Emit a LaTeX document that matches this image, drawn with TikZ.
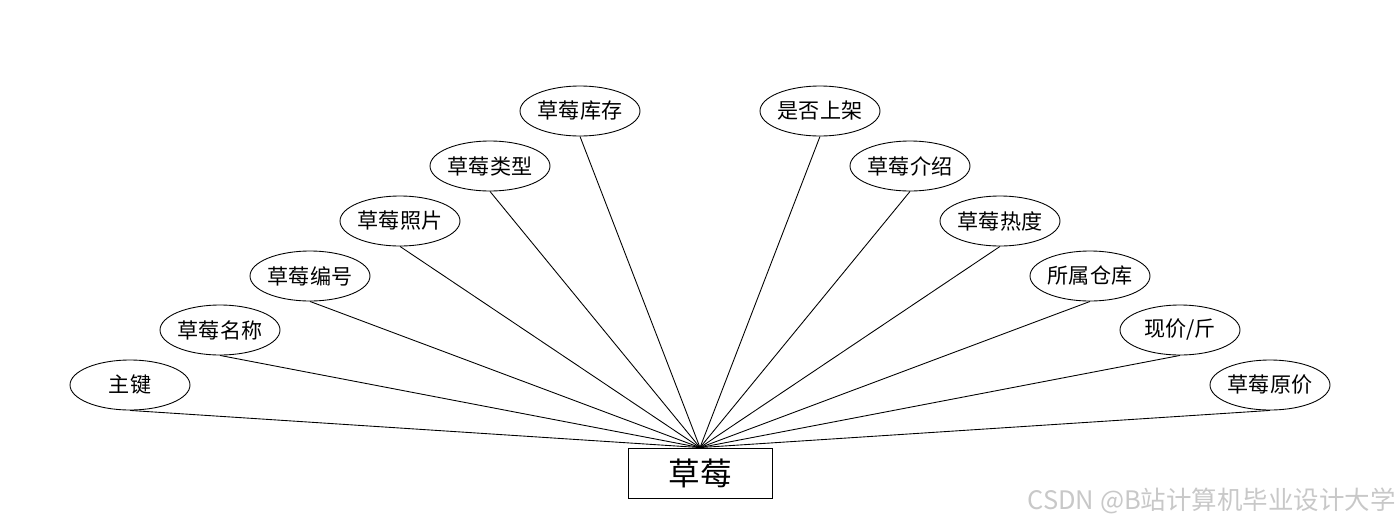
\documentclass[tikz,border=0pt]{standalone}
\usepackage{fontspec}
\setmainfont{Noto Sans CJK SC}
\usepackage{tikz}
\usetikzlibrary{shapes.geometric}
\definecolor{ink}{HTML}{000000}
\definecolor{wmark}{HTML}{C8C8C8}

\begin{document}
\begin{tikzpicture}[x=0.02cm,y=-0.02cm,
  attr/.style={draw=ink,ellipse,line width=0.5pt,minimum width=2.4cm,minimum height=1cm,
    inner sep=0pt,font=\fontsize{12}{14}\selectfont,text=ink},
  ent/.style={draw=ink,rectangle,line width=0.5pt,minimum width=2.88cm,minimum height=1cm,
    inner sep=0pt,font=\fontsize{18}{21}\selectfont,text=ink},
  link/.style={draw=ink,line width=0.5pt}]
\useasboundingbox (0,0) rectangle (1400,528);
\node[ent] (caomei) at (700,473) {草莓};
% left fan
\node[attr] (zhujian) at (130,385) {主键};
\node[attr] (mingcheng) at (220,330) {草莓名称};
\node[attr] (bianhao) at (310,276) {草莓编号};
\node[attr] (zhaopian) at (400,221) {草莓照片};
\node[attr] (leixing) at (490,166) {草莓类型};
\node[attr] (kucun) at (580,111) {草莓库存};
% right fan
\node[attr] (shangjia) at (820,111) {是否上架};
\node[attr] (jieshao) at (910,166) {草莓介绍};
\node[attr] (redu) at (1000,221) {草莓热度};
\node[attr] (cangku) at (1090,276) {所属仓库};
\node[attr] (xianjia) at (1180,330) {现价/斤};
\node[attr] (yuanjia) at (1270,385) {草莓原价};
\foreach \a in {zhujian,mingcheng,bianhao,zhaopian,leixing,kucun,
  shangjia,jieshao,redu,cangku,xianjia,yuanjia}
  \draw[link] (\a.south) -- (caomei.north);
\node[font=\fontsize{14.5}{16}\selectfont,text=wmark,anchor=east,inner sep=0pt] (wm) at (1396,501) {CSDN @B站计算机毕业设计大学};
\end{tikzpicture}
\end{document}
